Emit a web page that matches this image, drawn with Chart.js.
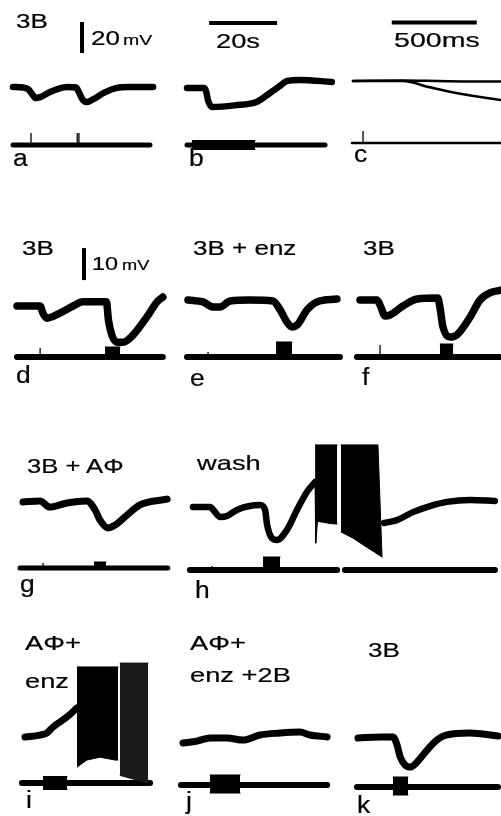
<!DOCTYPE html>
<html><head><meta charset="utf-8">
<script src="https://cdn.jsdelivr.net/npm/chart.js@4/dist/chart.umd.min.js"></script>
<style>
html,body{margin:0;padding:0;background:#fff;}
#fig{position:relative;width:501px;height:816px;overflow:hidden;background:#fff;}
#fig canvas{position:absolute;}
.lbl{position:absolute;font-family:"Liberation Sans",Arial,Helvetica,sans-serif;color:#000;line-height:1;white-space:nowrap;transform-origin:0 0;-webkit-text-stroke:0.2px #000;}
</style></head><body><div id="fig"></div>
<script>
// ---------- DATA: time (s; panel c in ms), membrane potential (mV, relative to resting level) ----------
const traceA = [[0,0],[3,-0.3],[4.5,-1.5],[5.6,-4.5],[6.6,-7.1],[8,-6.5],[10.9,-3.2],[13.5,-1.0],[16,0],[18.6,-0.3],[19.4,-3.5],[20.6,-8.5],[21.8,-9.7],[23.5,-8],[27,-3.5],[30.6,-0.6],[34,0],[41.2,0]];
const traceB = [[0,0],[5,0],[5.6,-2],[6.2,-8],[7.4,-12.3],[14,-11.2],[20.6,-8.8],[24.4,-3.2],[27.5,1.6],[29.4,4.5],[33.2,5.2],[42.6,3.9]];
const traceC1 = [[0,0],[300,0.3],[500,0],[700,-0.3],[871,-0.3]];
const traceC2 = [[0,0],[294,0],[453,-4.1],[647,-8.6],[871,-12.3]];
const traceD = [[0,0],[6.8,0],[7.6,-2.2],[8.8,-3.8],[12.6,-2.2],[16.5,0],[19.4,1.3],[26.3,1.3],[26.9,-4.4],[27.9,-9.1],[29.4,-11.3],[31.2,-11.3],[34.1,-9.1],[38.2,-3.4],[41.2,1.3],[42.9,2.8]];
const traceE = [[0,0],[4.4,-0.6],[7.4,-2.2],[9.4,-2.2],[12.4,-0.3],[18.2,0],[25,-0.3],[27.1,-3.1],[29.1,-6.9],[30.6,-8.4],[32.1,-7.8],[35,-3.1],[37.9,-0.6],[43.8,0.3]];
const traceF = [[0,0],[5,0],[5.9,-1.6],[7.4,-5],[8.8,-4.7],[12.6,-1.9],[16.8,0.3],[22.9,0.6],[23.5,-2.2],[24.4,-8.4],[26.5,-11.6],[28.5,-10.9],[32.4,-5.3],[35.3,0],[38.2,2.2],[41.5,3.1]];
const traceG = [[0,0],[5,0.3],[7.9,-1.6],[12.9,-0.3],[18.8,0.3],[21.2,-2.5],[22.6,-5.6],[25,-8.1],[27.1,-7.2],[30.6,-4.1],[34.4,-0.9],[42.4,0.9]];
const traceH1 = [[0,0],[5,0],[6.5,-1.6],[7.9,-3.1],[10,-2.8],[12.9,-0.9],[19.7,0.6],[21.2,-0.9],[21.8,-5.6],[23.2,-9.7],[24.7,-10.3],[27.6,-7.2],[30.6,-0.9],[33.5,4.7],[35.9,7.8]];
const traceH2 = [[56.2,-5],[60,-4.1],[64.7,-1.6],[69.7,0.3],[74.7,1.6],[81.5,2.2],[88.8,1.9]];
const traceI = [[0,0],[4.4,0.6],[6.5,1.3],[8.2,3.1],[12.4,6.3],[15.3,9.1]];
const traceJ = [[0,0],[4.1,0.6],[7.9,1.6],[12.9,1.6],[17.6,0.9],[22.6,2.5],[28.5,3.1],[34.4,3.4],[37.4,2.5],[42.4,1.9]];
const traceK = [[0,0],[6.5,0.3],[10.3,0.3],[11.5,-2.2],[12.4,-5.9],[13.8,-8.4],[15.3,-9.1],[17.4,-7.5],[20.3,-3.8],[23.2,-0.6],[25.9,0.9],[32.9,1.6],[41.2,0.6]];
// action-potential bursts: upper and lower envelopes (mV)
const burstH1Top = [[35.9,19.4],[42.4,19.4]];
const burstH1Bottom = [[35.9,7.8],[36.1,-11.3],[36.6,-4.5],[38.5,-4.8],[40.5,-5.2],[42.4,-5.3]];
const burstH2Top = [[43.5,19.4],[54.4,19.4],[55.6,-15.6]];
const burstH2Bottom = [[43.5,-7.8],[47,-9.7],[51,-12.5],[55.6,-15.6]];
const burstI1Top = [[15.3,21.9],[27.4,21.9]];
const burstI1Bottom = [[15.3,-9.4],[18.2,-7.2],[22.1,-6.3],[26.5,-7.2],[27.4,-7.2]];
const burstI2Top = [[27.9,23.1],[36.2,23.1]];
const burstI2Bottom = [[27.9,-12],[36.2,-14.4]];
// stimulus monitor: recording spans [start,end], single pulses [t,height], trains [start,end,top,bottom]
const stimSpansA=[[0,40.3]], stimTicksA=[[5.3,1.2],[18.9,1.2],[19.4,1.2]], stimTrainsA=[];
const stimSpansB=[[0,40.6]], stimTicksB=[], stimTrainsB=[[1.5,20,0.45,-0.45]];
const stimSpansC=[[-6,876]], stimTicksC=[[59,1.2]], stimTrainsC=[];
const stimSpansD=[[0,42.9]], stimTicksD=[[6.8,0.9]], stimTrainsD=[[25.9,30.3,1.0,0]];
const stimSpansE=[[-0.3,44.7]], stimTicksE=[[5.9,0.5]], stimTrainsE=[[25.9,30.6,1.5,0]];
const stimSpansF=[[-0.9,41.5]], stimTicksF=[[5.9,1.2]], stimTrainsF=[[23.5,27.4,1.3,0]];
const stimSpansG=[[-0.9,42.6]], stimTicksG=[[5.9,0.5]], stimTrainsG=[[20.9,24.4,0.6,0]];
const stimSpansH=[[-0.9,42.4],[44.7,88.8]], stimTicksH=[[5.6,0.4]], stimTrainsH=[[20.6,25.6,1.3,0]];
const stimSpansI=[[-0.9,36.8]], stimTicksI=[], stimTrainsI=[[5.3,12.4,0.65,-0.65]];
const stimSpansJ=[[-0.6,42.4]], stimTicksJ=[], stimTrainsJ=[[7.9,16.8,1.0,-0.8]];
const stimSpansK=[[-0.3,41.2]], stimTicksK=[], stimTrainsK=[[10.3,14.7,1.0,-0.8]];
// calibration bars
const calA = {dir:'v', len:20, unit:'mV'};
const calB = {dir:'h', len:20, unit:'s'};
const calC = {dir:'h', len:500, unit:'ms'};
const calD = {dir:'v', len:10, unit:'mV'};
// text
const labels = [
 {t:'3B',x:16,b:28,f:20},{t:'20',x:91,b:45,f:20},{t:'mV',x:123,b:45,f:15},
 {t:'20s',x:216,b:48,f:21},{t:'500ms',x:394,b:47,f:21,sx:1.36},
 {t:'a',x:13,b:166,f:23,sx:1.15},{t:'b',x:189,b:166,f:23,sx:1.15},{t:'c',x:354,b:162,f:23,sx:1.15},
 {t:'3B',x:22,b:255,f:20},{t:'10',x:92,b:270,f:18},{t:'mV',x:122,b:270,f:14},
 {t:'3B + enz',x:193,b:255,f:20},{t:'3B',x:363,b:255,f:20},
 {t:'d',x:16,b:383,f:23,sx:1.15},{t:'e',x:190,b:386,f:23,sx:1.15},{t:'f',x:362,b:385,f:23,sx:1.15},
 {t:'3B + AΦ',x:27,b:473,f:21,sx:1.22},{t:'wash',x:197,b:470,f:21},
 {t:'g',x:20,b:592,f:23,sx:1.15},{t:'h',x:195,b:598,f:23,sx:1.15},
 {t:'AΦ+',x:25,b:650,f:21},{t:'enz',x:25,b:688,f:21},
 {t:'AΦ+',x:190,b:650,f:21},{t:'enz +2B',x:190,b:682,f:21},
 {t:'3B',x:368,b:657,f:20},
 {t:'i',x:26,b:808,f:23,sx:1.15},{t:'j',x:186,b:809,f:23,sx:1.15},{t:'k',x:357,b:813,f:23,sx:1.15}
];

// ---------- LAYOUT (page pixels) ----------
const panels = [
 {box:[0,8,172,167], origin:[13,87], stimY:145, pxX:3.4, pxV:1.55, traces:[traceA], lw:6.5, spans:stimSpansA, ticks:stimTicksA, trains:stimTrainsA, slw:5, cal:calA, calAt:[20.3,21.9]},
 {box:[172,8,168,167], origin:[187,88], stimY:145, pxX:3.4, pxV:1.55, traces:[traceB], lw:6.5, spans:stimSpansB, ticks:stimTicksB, trains:stimTrainsB, slw:5, cal:calB, calAt:[6.5,41.9]},
 {box:[340,8,161,167], origin:[353,81], stimY:143, pxX:0.17, pxV:1.55, traces:[traceC1,traceC2], lw:2.6, spans:stimSpansC, ticks:stimTicksC, trains:stimTrainsC, slw:2.4, cal:calC, calAt:[228,37.7]},
 {box:[0,240,177,150], origin:[17,306], stimY:357, pxX:3.4, pxV:3.2, traces:[traceD], lw:7.5, spans:stimSpansD, ticks:stimTicksD, trains:stimTrainsD, slw:6, cal:calD, calAt:[19.7,8.1]},
 {box:[177,240,175,150], origin:[188,300], stimY:357, pxX:3.4, pxV:3.2, traces:[traceE], lw:7.5, spans:stimSpansE, ticks:stimTicksE, trains:stimTrainsE, slw:6},
 {box:[352,240,149,150], origin:[360,300], stimY:357, pxX:3.4, pxV:3.2, traces:[traceF], lw:7.5, spans:stimSpansF, ticks:stimTicksF, trains:stimTrainsF, slw:6},
 {box:[0,430,182,170], origin:[23,502], stimY:568, pxX:3.4, pxV:3.2, traces:[traceG], lw:7, spans:stimSpansG, ticks:stimTicksG, trains:stimTrainsG, slw:5},
 {box:[182,430,319,170], origin:[193,507], stimY:570, pxX:3.4, pxV:3.2, traces:[traceH1,traceH2], lw:6.5, spans:stimSpansH, ticks:stimTicksH, trains:stimTrainsH, slw:6,
   bursts:[[burstH1Top,burstH1Bottom,'#000'],[burstH2Top,burstH2Bottom,'#000']]},
 {box:[0,650,168,150], origin:[25,737], stimY:783, pxX:3.4, pxV:3.2, traces:[traceI], lw:7, spans:stimSpansI, ticks:stimTicksI, trains:stimTrainsI, slw:6,
   bursts:[[burstI1Top,burstI1Bottom,'#000'],[burstI2Top,burstI2Bottom,'#1a1a1a']]},
 {box:[168,650,170,150], origin:[183,743], stimY:785, pxX:3.4, pxV:3.2, traces:[traceJ], lw:7, spans:stimSpansJ, ticks:stimTicksJ, trains:stimTrainsJ, slw:6},
 {box:[338,650,163,150], origin:[358,738], stimY:787, pxX:3.4, pxV:3.2, traces:[traceK], lw:7, spans:stimSpansK, ticks:stimTicksK, trains:stimTrainsK, slw:6}
];

const fig = document.getElementById('fig');
const xy = arr => arr.map(p => ({x:p[0], y:p[1]}));
const STIM_PX = 10; // px per stimulus-monitor unit

function makePanel(p){
  const [L,T,W,H] = p.box;
  const c = document.createElement('canvas');
  c.width=W; c.height=H;
  c.style.left=L+'px'; c.style.top=T+'px'; c.style.width=W+'px'; c.style.height=H+'px';
  fig.appendChild(c);
  const ds=[];
  const line=(data,axis,w,opts)=>{ds.push(Object.assign({data:xy(data),xAxisID:'x',yAxisID:axis,borderColor:'#000',backgroundColor:'#000',
     borderWidth:w,pointRadius:0,pointHoverRadius:0,fill:false,clip:false,tension:0,borderCapStyle:'round',borderJoinStyle:'round'},opts||{}));return ds.length-1;};
  p.traces.forEach(tr=>line(tr,'y',p.lw,{cubicInterpolationMode:'monotone'}));
  (p.bursts||[]).forEach(([top,bot,col])=>{const lo=line(bot,'y',1,{borderColor:col});line(top,'y',1,{borderColor:col,backgroundColor:col,fill:{target:lo}});});
  p.spans.forEach(([a,b])=>line([[a,0],[b,0]],'s',p.slw));
  p.ticks.forEach(([t,h])=>line([[t,0],[t,h]],'s',1.3,{borderCapStyle:'butt'}));
  p.trains.forEach(([a,b,top,bot])=>{const lo=line([[a,bot],[b,bot]],'s',1);line([[a,top],[b,top]],'s',1,{fill:{target:lo}});});
  if(p.cal){
    const [t0,v0]=p.calAt;
    if(p.cal.dir==='v') line([[t0,v0],[t0,v0+p.cal.len]],'y',4,{borderCapStyle:'butt'});
    else line([[t0,v0],[t0+p.cal.len,v0]],'y',4,{borderCapStyle:'butt'});
  }
  new Chart(c,{type:'line',data:{datasets:ds},options:{
    responsive:false,animation:false,devicePixelRatio:1,events:[],
    layout:{padding:0},
    plugins:{legend:{display:false},tooltip:{enabled:false},title:{display:false}},
    scales:{
      x:{type:'linear',display:false,bounds:'data',min:(L-p.origin[0])/p.pxX,max:(L+W-p.origin[0])/p.pxX},
      y:{type:'linear',display:false,bounds:'data',min:(p.origin[1]-(T+H))/p.pxV,max:(p.origin[1]-T)/p.pxV},
      s:{type:'linear',axis:'y',display:false,bounds:'data',min:(p.stimY-(T+H))/STIM_PX,max:(p.stimY-T)/STIM_PX}
    }}});
}
panels.forEach(makePanel);

labels.forEach(l=>{
  const d=document.createElement('div');
  d.className='lbl'; d.textContent=l.t;
  d.style.fontSize=l.f+'px';
  d.style.left=l.x+'px';
  d.style.top=(l.b-0.8465*l.f)+'px';
  d.style.transform='scaleX('+(l.sx||1.3)+')';
  fig.appendChild(d);
});
</script></body></html>
